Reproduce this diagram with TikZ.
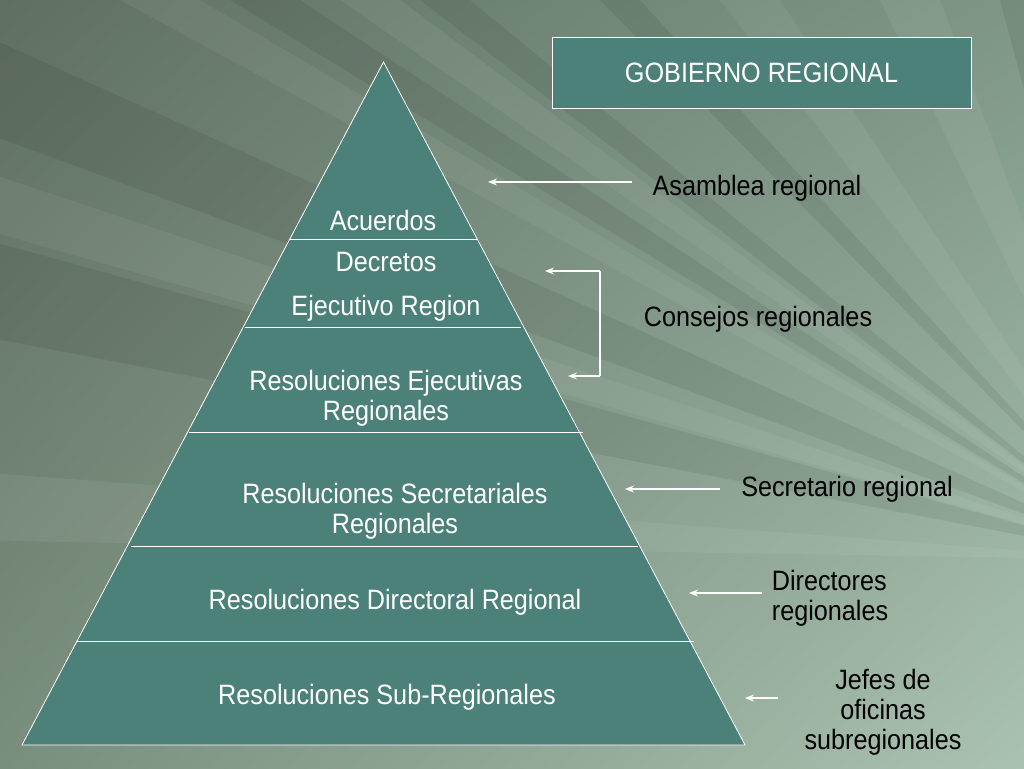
\documentclass[tikz,border=0pt]{standalone}
\usepackage{fontspec}
\setmainfont[FakeStretch=0.9]{Liberation Sans}
\usetikzlibrary{arrows.meta,shadings}
\definecolor{teal1}{HTML}{4B8179}
\definecolor{bgA}{HTML}{5F7062}
\definecolor{bgB}{HTML}{7E9686}
\definecolor{bgC}{HTML}{7A8E7D}
\definecolor{bgD}{HTML}{AAC2B1}
\tikzset{
  lbl/.style={font=\fontsize{28}{30}\selectfont, text=white, align=center, inner sep=0pt},
  side/.style={font=\fontsize{28}{30}\selectfont, text=black, inner sep=0pt},
  arr/.style={draw=white, line width=1.3pt, -{Stealth[length=9pt,width=7pt]}},
  band/.style={draw=white, line width=0.8pt},
  lightray/.style={fill=white, opacity=0.06},
  darkray/.style={fill=black, opacity=0.07}
}
\begin{document}
\begin{tikzpicture}[x=1pt,y=-1pt]
\useasboundingbox (0,0) rectangle (1024,768);
% background
\shade[upper left=bgA, upper right=bgB, lower left=bgC, lower right=bgD] (0,0) rectangle (1024,768);
\begin{scope}
\clip (0,0) rectangle (1024,768);
\fill[darkray] (1150,560) -- (230,0) -- (300,0) -- cycle;
\fill[darkray] (1150,560) -- (420,0) -- (470,0) -- cycle;
\fill[darkray] (1150,560) -- (600,0) -- (640,0) -- cycle;
\fill[darkray] (1150,560) -- (-50,230) -- (-50,330) -- cycle;
\fill[darkray] (1150,560) -- (-50,20) -- (-50,120) -- cycle;
\fill[lightray] (1150,560) -- (120,0) -- (200,0) -- cycle;
\fill[lightray] (1150,560) -- (340,0) -- (400,0) -- cycle;
\fill[lightray] (1150,560) -- (720,0) -- (780,0) -- cycle;
\fill[lightray] (1150,560) -- (880,0) -- (940,0) -- cycle;
\fill[lightray] (1150,560) -- (-50,160) -- (-50,220) -- cycle;
\fill[lightray] (1150,560) -- (-50,470) -- (-50,540) -- cycle;
\fill[darkray] (1150,560) -- (1000,0) -- (1040,0) -- cycle;
\end{scope}
% pyramid
\coordinate (apex) at (383.5,62);
\coordinate (bl) at (22,745);
\coordinate (br) at (745,745);
\fill[teal1] (apex) -- (bl) -- (br) -- cycle;
\draw[band] (apex) -- (bl) -- (br) -- cycle;
\coordinate (l1) at (289,239); \coordinate (r1) at (478,239);
\coordinate (l2) at (245,327); \coordinate (r2) at (521,327);
\coordinate (l3) at (189,432); \coordinate (r3) at (583,432);
\coordinate (l4) at (131,546); \coordinate (r4) at (638,546);
\coordinate (l5) at (77,641);  \coordinate (r5) at (694,641);
\draw[band] (l1) -- (r1);
\draw[band] (l2) -- (r2);
\draw[band] (l3) -- (r3);
\draw[band] (l4) -- (r4);
\draw[band] (l5) -- (r5);
% pyramid labels
\node[lbl] (acu) at (383,220) {Acuerdos};
\node[lbl] (dec) at (386,262) {Decretos};
\node[lbl] (eje) at (386,308) {Ejecutivo Region};
\node[lbl] (rej) at (386,398) {Resoluciones Ejecutivas\\Regionales};
\node[lbl] (rse) at (395,511) {Resoluciones Secretariales\\Regionales};
\node[lbl] (rdi) at (395,602) {Resoluciones Directoral Regional};
\node[lbl] (rsu) at (387,697) {Resoluciones Sub-Regionales};
% title box
\node[draw=white, line width=0.8pt, fill=teal1, minimum width=419pt, minimum height=71pt, inner sep=0pt,
      font=\fontsize{28}{30}\selectfont, text=white] (gob) at (761.5,72.5) {GOBIERNO REGIONAL};
% side labels
\node[side] (asa) at (757,188) {Asamblea regional};
\node[side] (con) at (758,319) {Consejos regionales};
\node[side] (sec) at (847,489) {Secretario regional};
\node[side, align=left] (dir) at (830,598) {Directores\\regionales};
\node[side, align=center] (jef) at (883,712) {Jefes de\\oficinas\\subregionales};
% connectors
\coordinate (aS) at (632,182); \coordinate (aT) at (488,182);
\draw[arr] (aS) -- (aT);
\coordinate (cTop) at (600,271); \coordinate (cBot) at (600,376);
\coordinate (cT1) at (545,271); \coordinate (cT2) at (568,376);
\draw[draw=white, line width=1.3pt] (cTop) -- (cBot);
\draw[arr] (cTop) -- (cT1);
\draw[arr] (cBot) -- (cT2);
\coordinate (sS) at (720,489); \coordinate (sT) at (625,489);
\draw[arr] (sS) -- (sT);
\coordinate (dS) at (762,593); \coordinate (dT) at (689,593);
\draw[arr] (dS) -- (dT);
\coordinate (jS) at (778,698); \coordinate (jT) at (745,698);
\draw[arr] (jS) -- (jT);
\end{tikzpicture}
\end{document}
